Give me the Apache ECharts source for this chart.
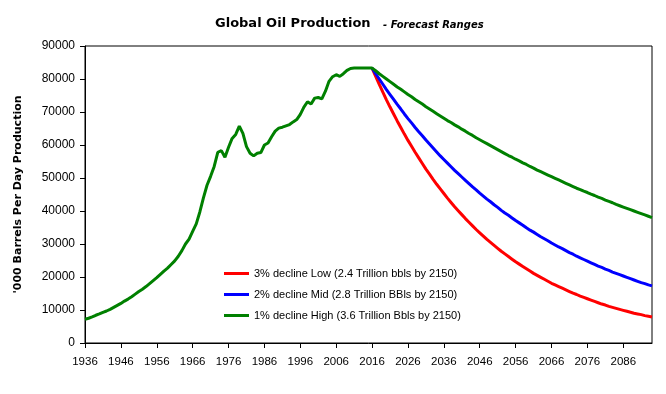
<!DOCTYPE html>
<html>
<head>
<meta charset="utf-8">
<script src="https://cdn.jsdelivr.net/npm/echarts@6/dist/echarts.min.js"></script>
<style>
html,body{margin:0;padding:0;background:#fff;}
#c{width:666px;height:394px;}
</style>
</head>
<body>
<div id="c"></div>
<script>
var START_YEAR = 1936;
var END_YEAR = 2094;
var X_TICK_STEP = 10;
var Y_MIN = 0, Y_MAX = 90000, Y_STEP = 10000;

var TITLE_MAIN = 'Global Oil Production';
var TITLE_SUB = '- Forecast Ranges';
var Y_NAME = "'000 Barrels Per Day Production";

var SERIES_NAMES = [
  '3% decline Low (2.4 Trillion bbls by 2150)',
  '2% decline Mid (2.8 Trillion BBls by 2150)',
  '1% decline High (3.6 Trillion Bbls by 2150)'
];

// actual production 1936-2016
var historyValues = [
  7200, 7500, 7900, 8400, 8800, 9300, 9700, 10200, 10800, 11400,
  12000, 12700, 13300, 14000, 14800, 15600, 16300, 17100, 18000, 18900,
  19800, 20800, 21800, 22700, 23800, 24900, 26300, 28000, 30000, 31500,
  33800, 36100, 39700, 44000, 47800, 50500, 53500, 57800, 58300, 56300,
  59300, 62000, 63200, 65700, 63500, 59500, 57500, 56700, 57500, 57700,
  60000, 60600, 62500, 64200, 65100, 65400, 65800, 66200, 67000, 67700,
  69300, 71500, 73100, 72400, 74200, 74400, 74000, 76300, 79300, 80700,
  81300, 80800, 81600, 82600, 83200, 83300, 83300, 83300, 83300, 83300,
  83300
];

// forecasts 2017-2094
var lowForecast = [
  80800, 78400, 76000, 73700, 71500, 69400, 67300, 65300, 63300, 61400,
  59600, 57800, 56100, 54400, 52700, 51200, 49600, 48100, 46700, 45300,
  43900, 42600, 41300, 40100, 38900, 37700, 36600, 35500, 34400, 33400,
  32400, 31400, 30500, 29600, 28700, 27800, 27000, 26200, 25400, 24600,
  23900, 23200, 22500, 21800, 21100, 20500, 19900, 19300, 18700, 18100,
  17600, 17100, 16600, 16100, 15600, 15100, 14700, 14200, 13800, 13400,
  13000, 12600, 12200, 11800, 11500, 11100, 10800, 10500, 10200, 9900,
  9600, 9300, 9000, 8800, 8600, 8300, 8100, 7900
];
var midForecast = [
  81600, 80000, 78400, 76800, 75300, 73800, 72300, 70900, 69400, 68000,
  66700, 65300, 64000, 62800, 61500, 60300, 59100, 57900, 56700, 55600,
  54500, 53400, 52300, 51300, 50300, 49300, 48300, 47300, 46400, 45400,
  44500, 43600, 42800, 41900, 41100, 40200, 39400, 38700, 37900, 37100,
  36400, 35700, 34900, 34200, 33600, 32900, 32200, 31600, 31000, 30300,
  29700, 29100, 28600, 28000, 27400, 26900, 26300, 25800, 25300, 24800,
  24300, 23800, 23300, 22900, 22400, 22000, 21500, 21100, 20700, 20300,
  19900, 19500, 19100, 18700, 18300, 18000, 17600, 17300
];
var highForecast = [
  82500, 81600, 80800, 80000, 79200, 78400, 77600, 76900, 76100, 75300,
  74600, 73800, 73100, 72400, 71600, 70900, 70200, 69500, 68800, 68100,
  67400, 66800, 66100, 65500, 64800, 64200, 63500, 62900, 62200, 61600,
  61000, 60400, 59800, 59200, 58600, 58000, 57400, 56800, 56300, 55700,
  55200, 54600, 54100, 53500, 53000, 52400, 51900, 51400, 50900, 50400,
  49900, 49400, 48900, 48400, 47900, 47400, 46900, 46500, 46000, 45600,
  45100, 44700, 44200, 43800, 43300, 42900, 42500, 42000, 41600, 41200,
  40800, 40400, 40000, 39600, 39200, 38800, 38400, 38000
];

var COLORS = ['#ff0000', '#0000ff', '#008000'];
var FONT = "'Liberation Sans', Arial, sans-serif";
var BOLD_FONT = "'DejaVu Sans', 'Liberation Sans', sans-serif";

var years = [];
for (var y = START_YEAR; y <= END_YEAR; y++) years.push(String(y));

function branch(forecast) {
  var out = [];
  for (var i = 0; i < historyValues.length - 1; i++) out.push(null);
  out.push(historyValues[historyValues.length - 1]);
  return out.concat(forecast);
}
var seriesData = [
  branch(lowForecast),
  branch(midForecast),
  historyValues.concat(highForecast)
];

function everyTenth(idx) { return idx % X_TICK_STEP === 0; }

var chart = echarts.init(document.getElementById('c'), null, {renderer: 'canvas'});
chart.setOption({
  animation: false,
  backgroundColor: '#ffffff',
  color: COLORS,
  title: [{
    text: TITLE_MAIN,
    left: 215,
    top: 16,
    padding: 0,
    textStyle: {fontFamily: BOLD_FONT, fontSize: 13, fontWeight: 'bold', color: '#000', lineHeight: 15}
  }, {
    text: TITLE_SUB,
    left: 383,
    top: 19,
    padding: 0,
    textStyle: {fontFamily: BOLD_FONT, fontSize: 10, fontWeight: 'bold', fontStyle: 'italic', color: '#000', lineHeight: 12}
  }],
  legend: {
    orient: 'vertical',
    left: 224,
    top: 266.5,
    padding: 0,
    itemGap: 7,
    itemWidth: 25,
    itemHeight: 3,
    icon: 'rect',
    textStyle: {fontFamily: FONT, fontSize: 11, color: '#000', lineHeight: 14},
    data: SERIES_NAMES
  },
  grid: {
    left: 85, right: 14, top: 46, bottom: 51,
    show: true, borderColor: '#000', borderWidth: 1, backgroundColor: 'transparent'
  },
  xAxis: {
    type: 'category',
    data: years,
    boundaryGap: false,
    axisLine: {lineStyle: {color: '#000', width: 1}},
    axisTick: {show: true, inside: false, length: 5, interval: everyTenth, lineStyle: {color: '#000'}},
    axisLabel: {interval: everyTenth, margin: 13, fontFamily: FONT, fontSize: 11.5, color: '#000', hideOverlap: false},
    splitLine: {show: false}
  },
  yAxis: {
    type: 'value',
    min: Y_MIN, max: Y_MAX, interval: Y_STEP,
    name: Y_NAME,
    nameLocation: 'middle',
    nameRotate: 90,
    nameGap: 61,
    nameTextStyle: {fontFamily: BOLD_FONT, fontSize: 11, fontWeight: 'bold', color: '#000'},
    axisLine: {show: true, lineStyle: {color: '#000', width: 1}},
    axisTick: {show: true, inside: false, length: 5, lineStyle: {color: '#000'}},
    axisLabel: {margin: 10, fontFamily: FONT, fontSize: 12, color: '#000', formatter: function (v) { return String(v); }},
    splitLine: {show: false}
  },
  series: SERIES_NAMES.map(function (name, i) {
    return {
      name: name,
      type: 'line',
      data: seriesData[i],
      showSymbol: false,
      symbol: 'none',
      connectNulls: false,
      lineStyle: {width: 3, color: COLORS[i]},
      itemStyle: {color: COLORS[i]},
      z: 2 + i
    };
  })
});
</script>
</body>
</html>
